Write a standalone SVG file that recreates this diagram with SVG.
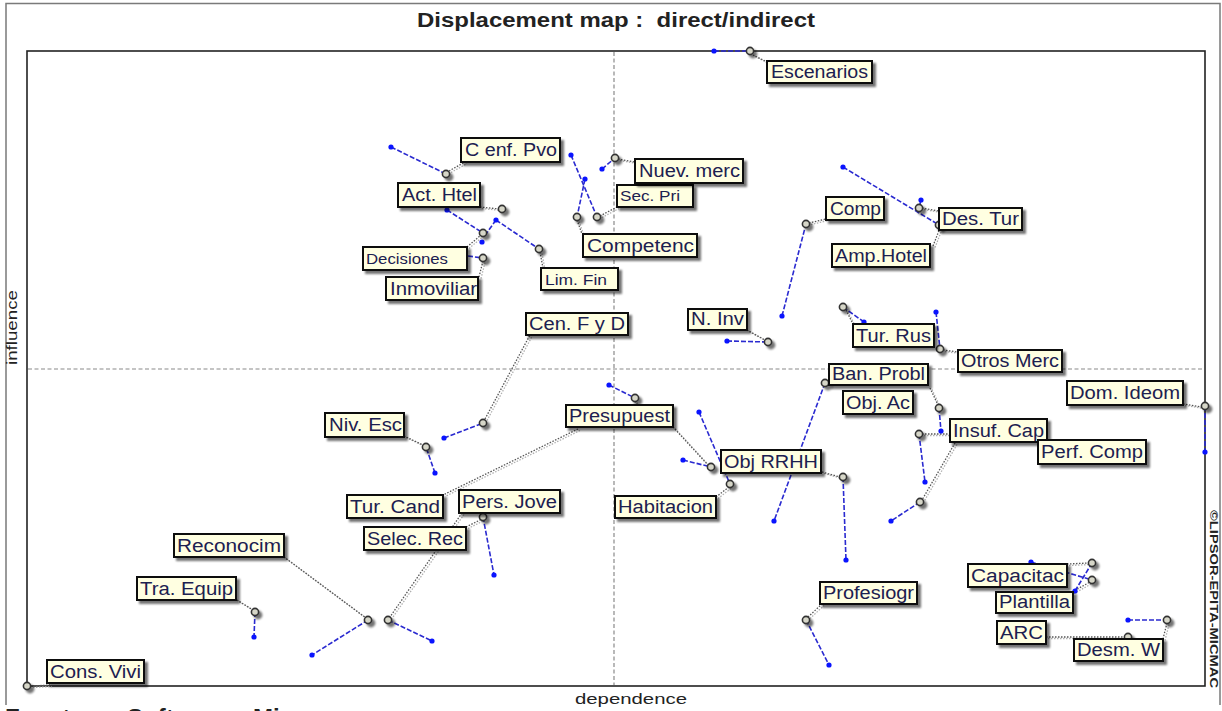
<svg xmlns="http://www.w3.org/2000/svg" xmlns:xlink="http://www.w3.org/1999/xlink" width="1222" height="711" viewBox="0 0 1222 711">
  <defs>
    <filter id="shadow" x="-10%" y="-20%" width="130%" height="170%">
      <feGaussianBlur in="SourceAlpha" stdDeviation="1.2"/>
      <feOffset dx="3" dy="3"/>
      <feComponentTransfer><feFuncA type="linear" slope="0.55"/></feComponentTransfer>
      <feMerge><feMergeNode/><feMergeNode in="SourceGraphic"/></feMerge>
    </filter>
    <style>
      .frame { fill: none; stroke: #7a7a7a; stroke-width: 1.5 }
      .plot { fill: #ffffff; stroke: #222; stroke-width: 1.6 }
      .axis { stroke: #8a8a8a; stroke-width: 1.2; stroke-dasharray: 4 2.5; fill: none }
      .box { fill: #ffffe1; stroke: #111; stroke-width: 2; filter: url(#shadow) }
      .lbl { font-family: "Liberation Sans", Arial, sans-serif; font-size: 18px; fill: #1c2050 }
      .sm { font-size: 14px }
      .pt { fill: #d6d6c8; stroke: #333; stroke-width: 1.6; filter: url(#shadow) }
      .dot { fill: #0a14ff }
      .mv { stroke: #2a2ad0; stroke-width: 1.6; stroke-dasharray: 5 2; fill: none }
      .lead { fill: none; stroke-dasharray: 1.5 1.5; stroke-width: 1.3 }
      .cap { font-family: "Liberation Sans", Arial, sans-serif; fill: #222 }
    </style>
  </defs>

  <rect width="1222" height="711" fill="#ffffff"/>

  <!-- outer frame and title -->
  <path class="frame" d="M6 705 V3.5 H1220 V705"/>
  <text class="cap" x="417" y="27" font-size="20" font-weight="bold" xml:space="preserve" textLength="398" lengthAdjust="spacingAndGlyphs">Displacement map :  direct/indirect</text>

  <!-- plot area and quadrant axes -->
  <rect class="plot" x="27" y="51" width="1178" height="635"/>
  <line class="axis" x1="614" y1="52" x2="614" y2="685"/>
  <line class="axis" x1="28" y1="369" x2="1204" y2="369"/>

  <text class="cap" transform="translate(17,365) rotate(-90)" font-size="14" textLength="75" lengthAdjust="spacingAndGlyphs">influence</text>
  <text class="cap" x="575" y="704" font-size="15" textLength="112" lengthAdjust="spacingAndGlyphs">dependence</text>
  <text class="cap" transform="translate(1210,510) rotate(90)" font-size="11" font-weight="bold" textLength="178" lengthAdjust="spacingAndGlyphs">©LIPSOR-EPITA-MICMAC</text>
  <text class="cap" y="726" font-size="24" font-weight="bold" fill="#333"><tspan x="5">Fuente:</tspan><tspan x="127">Software</tspan><tspan x="253">Micmac</tspan></text>

  <!-- connectors: label leaders (doubled dotted strands) and displacement lines -->
  <g id="connectors">
    <g stroke="#b0b0b0" transform="translate(2,1.5)"><use xlink:href="#leaders"/></g>
    <g stroke="#555555">
      <g id="leaders" class="lead">
        <path d="M753 55 L767 62"/>
        <path d="M449 171 L465 162"/>
        <path d="M480 207 L499 209"/>
        <path d="M467 247 L481 235"/>
        <path d="M479 277 L483 261"/>
        <path d="M540 252 L543 268"/>
        <path d="M577 220 L582 234"/>
        <path d="M600 216 L617 207"/>
        <path d="M618 159 L635 162"/>
        <path d="M809 223 L826 219"/>
        <path d="M922 208 L939 211"/>
        <path d="M933 246 L940 228"/>
        <path d="M747 330 L765 340"/>
        <path d="M846 310 L853 324"/>
        <path d="M943 350 L958 352"/>
        <path d="M485 419 L530 335"/>
        <path d="M404 436 L423 445"/>
        <path d="M635 401 L637 405"/>
        <path d="M673 427 L708 465"/>
        <path d="M578 429 L443 495"/>
        <path d="M822 472 L840 477"/>
        <path d="M716 497 L729 487"/>
        <path d="M930 388 L938 405"/>
        <path d="M922 434 L950 434"/>
        <path d="M955 443 L922 500"/>
        <path d="M1183 404 L1202 407"/>
        <path d="M462 513 L390 617"/>
        <path d="M466 527 L482 519"/>
        <path d="M284 557 L366 618"/>
        <path d="M237 600 L253 610"/>
        <path d="M31 686 L50 685"/>
        <path d="M808 617 L822 604"/>
        <path d="M1067 564 L1089 563"/>
        <path d="M1072 592 L1090 582"/>
        <path d="M1046 637 L1125 637"/>
        <path d="M1163 639 L1167 623"/>
      </g>
    </g>
    <g id="moves" class="mv">
      <path d="M714 51 L750 51"/>
      <path d="M391 147 L446 174"/>
      <path d="M447 210 L483 233"/>
      <path d="M496 220 L539 249"/>
      <path d="M496 220 L486 234"/>
      <path d="M468 256 L483 258"/>
      <path d="M571 155 L597 217"/>
      <path d="M585 179 L577 217"/>
      <path d="M602 169 L615 158"/>
      <path d="M782 316 L806 224"/>
      <path d="M843 167 L939 225"/>
      <path d="M921 200 L919 208"/>
      <path d="M727 341 L768 342"/>
      <path d="M843 307 L864 322"/>
      <path d="M936 312 L940 349"/>
      <path d="M444 438 L483 423"/>
      <path d="M435 473 L426 447"/>
      <path d="M609 385 L635 398"/>
      <path d="M683 460 L711 467"/>
      <path d="M699 412 L730 484"/>
      <path d="M843 477 L846 560"/>
      <path d="M825 383 L774 521"/>
      <path d="M939 408 L941 431"/>
      <path d="M919 434 L925 482"/>
      <path d="M920 502 L891 521"/>
      <path d="M1205 406 L1205 452"/>
      <path d="M368 620 L312 655"/>
      <path d="M388 620 L432 641"/>
      <path d="M483 517 L494 575"/>
      <path d="M255 612 L254 637"/>
      <path d="M806 620 L829 665"/>
      <path d="M1031 562 L1092 580"/>
      <path d="M1075 591 L1092 563"/>
      <path d="M1128 620 L1167 620"/>
    </g>
  </g>

  <!-- blue end points (indirect positions) -->
  <g id="indirect" class="dot">
    <circle cx="714" cy="51" r="2.6"/>
    <circle cx="391" cy="147" r="2.6"/>
    <circle cx="447" cy="210" r="2.6"/>
    <circle cx="496" cy="220" r="2.6"/>
    <circle cx="482" cy="242" r="2.6"/>
    <circle cx="571" cy="155" r="2.6"/>
    <circle cx="585" cy="179" r="2.6"/>
    <circle cx="602" cy="169" r="2.6"/>
    <circle cx="782" cy="316" r="2.6"/>
    <circle cx="843" cy="167" r="2.6"/>
    <circle cx="921" cy="200" r="2.6"/>
    <circle cx="727" cy="341" r="2.6"/>
    <circle cx="864" cy="322" r="2.6"/>
    <circle cx="936" cy="312" r="2.6"/>
    <circle cx="444" cy="438" r="2.6"/>
    <circle cx="435" cy="473" r="2.6"/>
    <circle cx="609" cy="385" r="2.6"/>
    <circle cx="683" cy="460" r="2.6"/>
    <circle cx="699" cy="412" r="2.6"/>
    <circle cx="846" cy="560" r="2.6"/>
    <circle cx="774" cy="521" r="2.6"/>
    <circle cx="941" cy="431" r="2.6"/>
    <circle cx="925" cy="482" r="2.6"/>
    <circle cx="891" cy="521" r="2.6"/>
    <circle cx="1205" cy="452" r="2.6"/>
    <circle cx="312" cy="655" r="2.6"/>
    <circle cx="432" cy="641" r="2.6"/>
    <circle cx="494" cy="575" r="2.6"/>
    <circle cx="254" cy="637" r="2.6"/>
    <circle cx="829" cy="665" r="2.6"/>
    <circle cx="1031" cy="562" r="2.6"/>
    <circle cx="1075" cy="591" r="2.6"/>
    <circle cx="1128" cy="620" r="2.6"/>
  </g>

  <!-- direct positions (open markers) -->
  <g id="direct" class="pt">
    <circle cx="750" cy="51" r="3.6"/>
    <circle cx="446" cy="174" r="3.6"/>
    <circle cx="502" cy="209" r="3.6"/>
    <circle cx="483" cy="233" r="3.6"/>
    <circle cx="483" cy="258" r="3.6"/>
    <circle cx="539" cy="249" r="3.6"/>
    <circle cx="577" cy="217" r="3.6"/>
    <circle cx="597" cy="217" r="3.6"/>
    <circle cx="615" cy="158" r="3.6"/>
    <circle cx="806" cy="224" r="3.6"/>
    <circle cx="919" cy="208" r="3.6"/>
    <circle cx="939" cy="225" r="3.6"/>
    <circle cx="768" cy="342" r="3.6"/>
    <circle cx="843" cy="307" r="3.6"/>
    <circle cx="940" cy="349" r="3.6"/>
    <circle cx="483" cy="423" r="3.6"/>
    <circle cx="426" cy="447" r="3.6"/>
    <circle cx="635" cy="398" r="3.6"/>
    <circle cx="711" cy="467" r="3.6"/>
    <circle cx="730" cy="484" r="3.6"/>
    <circle cx="843" cy="477" r="3.6"/>
    <circle cx="825" cy="383" r="3.6"/>
    <circle cx="939" cy="408" r="3.6"/>
    <circle cx="919" cy="434" r="3.6"/>
    <circle cx="920" cy="502" r="3.6"/>
    <circle cx="1205" cy="406" r="3.6"/>
    <circle cx="368" cy="620" r="3.6"/>
    <circle cx="388" cy="620" r="3.6"/>
    <circle cx="483" cy="517" r="3.6"/>
    <circle cx="255" cy="612" r="3.6"/>
    <circle cx="27" cy="686" r="3.6"/>
    <circle cx="806" cy="620" r="3.6"/>
    <circle cx="1092" cy="563" r="3.6"/>
    <circle cx="1092" cy="580" r="3.6"/>
    <circle cx="1128" cy="637" r="3.6"/>
    <circle cx="1167" cy="620" r="3.6"/>
  </g>

  <!-- variable labels -->
  <g id="n-escenarios"><rect class="box" x="767" y="61" width="105" height="22"/><text class="lbl" x="771" y="78" textLength="97" lengthAdjust="spacingAndGlyphs">Escenarios</text></g>
  <g id="n-cenfpvo"><rect class="box" x="461" y="138" width="99" height="24"/><text class="lbl" x="465" y="156" textLength="92" lengthAdjust="spacingAndGlyphs">C enf. Pvo</text></g>
  <g id="n-acthtel"><rect class="box" x="398" y="183" width="82" height="24"/><text class="lbl" x="402" y="201" textLength="75" lengthAdjust="spacingAndGlyphs">Act. Htel</text></g>
  <g id="n-decisiones"><rect class="box" x="363" y="247" width="104" height="23"/><text class="lbl sm" x="366" y="264" textLength="82" lengthAdjust="spacingAndGlyphs">Decisiones</text></g>
  <g id="n-inmoviliar"><rect class="box" x="386" y="277" width="92" height="23"/><text class="lbl" x="390" y="295" textLength="87" lengthAdjust="spacingAndGlyphs">Inmoviliar</text></g>
  <g id="n-limfin"><rect class="box" x="541" y="268" width="77" height="22"/><text class="lbl sm" x="545" y="285" textLength="62" lengthAdjust="spacingAndGlyphs">Lim. Fin</text></g>
  <g id="n-competenc"><rect class="box" x="583" y="234" width="114" height="23"/><text class="lbl" x="587" y="252" textLength="107" lengthAdjust="spacingAndGlyphs">Competenc</text></g>
  <g id="n-secpri"><rect class="box" x="617" y="185" width="76" height="22"/><text class="lbl sm" x="620" y="201" textLength="60" lengthAdjust="spacingAndGlyphs">Sec. Pri</text></g>
  <g id="n-nuevmerc"><rect class="box" x="635" y="159" width="108" height="24"/><text class="lbl" x="639" y="177" textLength="101" lengthAdjust="spacingAndGlyphs">Nuev. merc</text></g>
  <g id="n-comp"><rect class="box" x="826" y="197" width="58" height="23"/><text class="lbl" x="830" y="215" textLength="51" lengthAdjust="spacingAndGlyphs">Comp</text></g>
  <g id="n-destur"><rect class="box" x="939" y="208" width="83" height="22"/><text class="lbl" x="942" y="225" textLength="77" lengthAdjust="spacingAndGlyphs">Des. Tur</text></g>
  <g id="n-amphotel"><rect class="box" x="832" y="244" width="98" height="23"/><text class="lbl" x="835" y="262" textLength="92" lengthAdjust="spacingAndGlyphs">Amp.Hotel</text></g>
  <g id="n-ninv"><rect class="box" x="688" y="309" width="59" height="21"/><text class="lbl" x="691" y="325" textLength="53" lengthAdjust="spacingAndGlyphs">N. Inv</text></g>
  <g id="n-turrus"><rect class="box" x="853" y="324" width="81" height="23"/><text class="lbl" x="856" y="342" textLength="75" lengthAdjust="spacingAndGlyphs">Tur. Rus</text></g>
  <g id="n-otrosmerc"><rect class="box" x="958" y="350" width="104" height="22"/><text class="lbl" x="961" y="367" textLength="98" lengthAdjust="spacingAndGlyphs">Otros Merc</text></g>
  <g id="n-cenfyd"><rect class="box" x="526" y="313" width="102" height="22"/><text class="lbl" x="529" y="330" textLength="96" lengthAdjust="spacingAndGlyphs">Cen. F y D</text></g>
  <g id="n-nivesc"><rect class="box" x="325" y="413" width="79" height="24"/><text class="lbl" x="329" y="431" textLength="73" lengthAdjust="spacingAndGlyphs">Niv. Esc</text></g>
  <g id="n-presupuest"><rect class="box" x="566" y="405" width="107" height="22"/><text class="lbl" x="569" y="422" textLength="101" lengthAdjust="spacingAndGlyphs">Presupuest</text></g>
  <g id="n-objrrhh"><rect class="box" x="721" y="450" width="100" height="23"/><text class="lbl" x="724" y="468" textLength="94" lengthAdjust="spacingAndGlyphs">Obj RRHH</text></g>
  <g id="n-habitacion"><rect class="box" x="615" y="496" width="101" height="22"/><text class="lbl" x="618" y="513" textLength="95" lengthAdjust="spacingAndGlyphs">Habitacion</text></g>
  <g id="n-banprobl"><rect class="box" x="829" y="364" width="99" height="21"/><text class="lbl" x="832" y="380" textLength="93" lengthAdjust="spacingAndGlyphs">Ban. Probl</text></g>
  <g id="n-objac"><rect class="box" x="843" y="391" width="70" height="23"/><text class="lbl" x="846" y="409" textLength="64" lengthAdjust="spacingAndGlyphs">Obj. Ac</text></g>
  <g id="n-insufcap"><rect class="box" x="950" y="419" width="97" height="23"/><text class="lbl" x="953" y="437" textLength="91" lengthAdjust="spacingAndGlyphs">Insuf. Cap</text></g>
  <g id="n-perfcomp"><rect class="box" x="1038" y="440" width="108" height="24"/><text class="lbl" x="1041" y="458" textLength="102" lengthAdjust="spacingAndGlyphs">Perf. Comp</text></g>
  <g id="n-domideom"><rect class="box" x="1067" y="381" width="116" height="24"/><text class="lbl" x="1070" y="399" textLength="110" lengthAdjust="spacingAndGlyphs">Dom. Ideom</text></g>
  <g id="n-turcand"><rect class="box" x="347" y="495" width="96" height="23"/><text class="lbl" x="350" y="513" textLength="90" lengthAdjust="spacingAndGlyphs">Tur. Cand</text></g>
  <g id="n-persjove"><rect class="box" x="459" y="490" width="101" height="23"/><text class="lbl" x="462" y="508" textLength="95" lengthAdjust="spacingAndGlyphs">Pers. Jove</text></g>
  <g id="n-selecrec"><rect class="box" x="364" y="527" width="102" height="23"/><text class="lbl" x="367" y="545" textLength="96" lengthAdjust="spacingAndGlyphs">Selec. Rec</text></g>
  <g id="n-reconocim"><rect class="box" x="174" y="534" width="110" height="23"/><text class="lbl" x="177" y="552" textLength="104" lengthAdjust="spacingAndGlyphs">Reconocim</text></g>
  <g id="n-traequip"><rect class="box" x="137" y="577" width="99" height="23"/><text class="lbl" x="140" y="595" textLength="93" lengthAdjust="spacingAndGlyphs">Tra. Equip</text></g>
  <g id="n-consvivi"><rect class="box" x="47" y="660" width="97" height="23"/><text class="lbl" x="50" y="678" textLength="91" lengthAdjust="spacingAndGlyphs">Cons. Vivi</text></g>
  <g id="n-profesiogr"><rect class="box" x="820" y="582" width="97" height="22"/><text class="lbl" x="823" y="599" textLength="91" lengthAdjust="spacingAndGlyphs">Profesiogr</text></g>
  <g id="n-capacitac"><rect class="box" x="968" y="564" width="99" height="23"/><text class="lbl" x="971" y="582" textLength="93" lengthAdjust="spacingAndGlyphs">Capacitac</text></g>
  <g id="n-plantilla"><rect class="box" x="996" y="592" width="77" height="21"/><text class="lbl" x="999" y="608" textLength="71" lengthAdjust="spacingAndGlyphs">Plantilla</text></g>
  <g id="n-arc"><rect class="box" x="997" y="621" width="49" height="23"/><text class="lbl" x="1000" y="639" textLength="43" lengthAdjust="spacingAndGlyphs">ARC</text></g>
  <g id="n-desmw"><rect class="box" x="1074" y="639" width="89" height="22"/><text class="lbl" x="1077" y="656" textLength="83" lengthAdjust="spacingAndGlyphs">Desm. W</text></g>
</svg>
